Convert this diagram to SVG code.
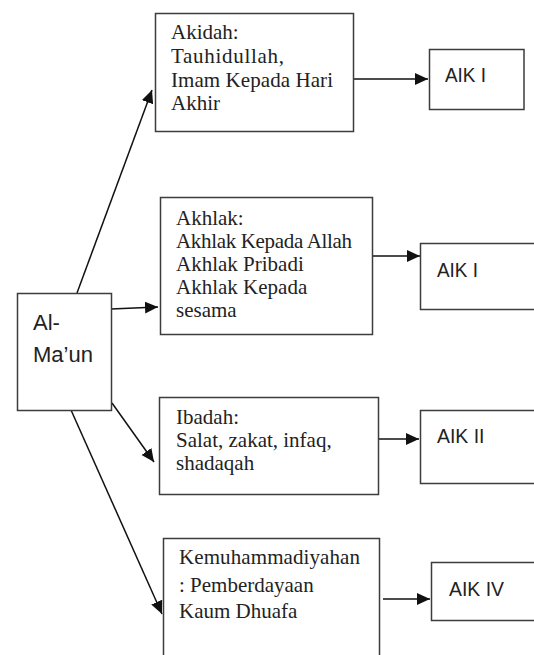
<svg xmlns="http://www.w3.org/2000/svg" width="534" height="655" viewBox="0 0 534 655">
<defs>
<marker id="ah" markerUnits="userSpaceOnUse" markerWidth="14" markerHeight="13" refX="13" refY="6" orient="auto">
<path d="M0,0 L13,6 L0,12 z" fill="#111"/>
</marker>
<style>
.box{fill:#fff;stroke:#3c3c3c;stroke-width:1.5}
.serif{font-family:"Liberation Serif","Times New Roman",serif;font-size:21px;fill:#222}
.sans{font-family:"Liberation Sans",Arial,sans-serif;font-size:20px;fill:#222}
.big{font-size:22px}
.conn{stroke:#111;stroke-width:1.5;fill:none;marker-end:url(#ah)}
</style>
</defs>
<rect width="534" height="655" fill="#fff"/>
<g id="connectors">
<line class="conn" x1="77" y1="293" x2="152" y2="90"/>
<line class="conn" x1="111" y1="309" x2="158" y2="307"/>
<line class="conn" x1="112" y1="403" x2="154" y2="462"/>
<line class="conn" x1="71" y1="410" x2="162" y2="614"/>
<line class="conn" x1="354" y1="79" x2="428" y2="79"/>
<line class="conn" x1="373" y1="256" x2="420" y2="256"/>
<line class="conn" x1="375" y1="439" x2="419" y2="439"/>
<line class="conn" x1="383" y1="599" x2="430" y2="599"/>
</g>
<g id="al-maun">
<rect class="box" x="17.5" y="293.5" width="94" height="117"/>
<text class="sans big" x="33" y="330">Al-</text>
<text class="sans big" x="33" y="362" textLength="60" lengthAdjust="spacingAndGlyphs">Ma’un</text>
</g>
<g id="akidah">
<rect class="box" x="155.5" y="13.5" width="198" height="118"/>
<text class="serif" x="171" y="39">Akidah:</text>
<text class="serif" x="171" y="63" textLength="113">Tauhidullah,</text>
<text class="serif" x="171" y="87" textLength="162">Imam Kepada Hari</text>
<text class="serif" x="171" y="110">Akhir</text>
</g>
<g id="akhlak">
<rect class="box" x="160.5" y="197.5" width="212" height="137"/>
<text class="serif" x="176" y="225">Akhlak:</text>
<text class="serif" x="176" y="248" textLength="176">Akhlak Kepada Allah</text>
<text class="serif" x="176" y="271">Akhlak Pribadi</text>
<text class="serif" x="176" y="294">Akhlak Kepada</text>
<text class="serif" x="176" y="317">sesama</text>
</g>
<g id="ibadah">
<rect class="box" x="159.5" y="397.5" width="219" height="97"/>
<text class="serif" x="176" y="424">Ibadah:</text>
<text class="serif" x="176" y="447">Salat, zakat, infaq,</text>
<text class="serif" x="176" y="470">shadaqah</text>
</g>
<g id="kemuhammadiyahan">
<rect class="box" x="163.5" y="538.5" width="216" height="140"/>
<text class="serif" x="179" y="564" textLength="181">Kemuhammadiyahan</text>
<text class="serif" x="179" y="592">: Pemberdayaan</text>
<text class="serif" x="179" y="618">Kaum Dhuafa</text>
</g>
<g id="aik1-top">
<rect class="box" x="429.5" y="49.5" width="94.5" height="60"/>
<text class="sans" x="445" y="82" textLength="41" lengthAdjust="spacingAndGlyphs">AIK I</text>
</g>
<g id="aik1-akhlak">
<rect class="box" x="420.5" y="243.5" width="140" height="66"/>
<text class="sans" x="437" y="277" textLength="41" lengthAdjust="spacingAndGlyphs">AIK I</text>
</g>
<g id="aik2">
<rect class="box" x="420.5" y="410.5" width="140" height="73"/>
<text class="sans" x="437" y="443" textLength="47.5" lengthAdjust="spacingAndGlyphs">AIK II</text>
</g>
<g id="aik4">
<rect class="box" x="431.5" y="562.5" width="130" height="58"/>
<text class="sans" x="449" y="596" textLength="55" lengthAdjust="spacingAndGlyphs">AIK IV</text>
</g>
</svg>
